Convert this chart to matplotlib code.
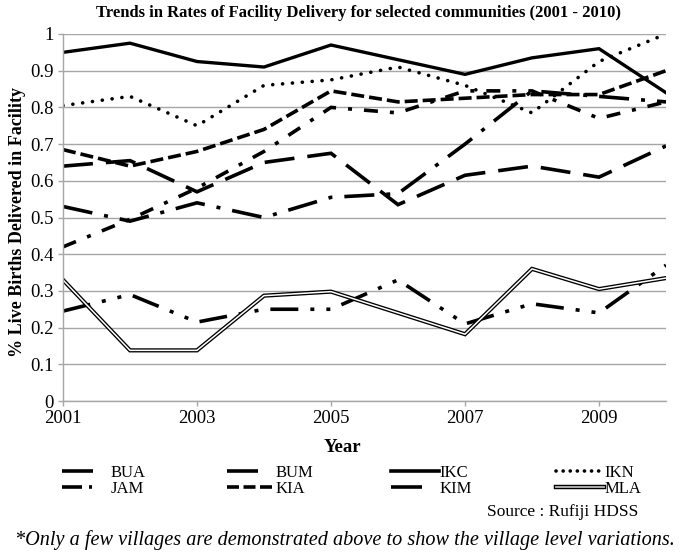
import matplotlib
matplotlib.use('Agg')
import matplotlib.pyplot as plt
import matplotlib.patheffects as pe
from matplotlib.lines import Line2D

plt.rcParams['font.family'] = ['Liberation Serif', 'DejaVu Serif']
plt.rcParams['lines.scale_dashes'] = False

# data
years = list(range(2001, 2011))
bua = [0.53, 0.49, 0.54, 0.50, 0.555, 0.565, 0.70, 0.845, 0.83, 0.815]
bum = [0.245, 0.29, 0.215, 0.25, 0.25, 0.33, 0.21, 0.265, 0.24, 0.37]
ikc = [0.95, 0.975, 0.925, 0.91, 0.97, 0.93, 0.89, 0.935, 0.96, 0.84]
ikn = [0.805, 0.83, 0.75, 0.86, 0.875, 0.91, 0.86, 0.785, 0.925, 1.0]
jam = [0.42, 0.495, 0.58, 0.68, 0.80, 0.785, 0.845, 0.845, 0.77, 0.815]
kia = [0.685, 0.64, 0.68, 0.74, 0.845, 0.815, 0.825, 0.835, 0.835, 0.90]
kim = [0.64, 0.655, 0.57, 0.65, 0.675, 0.535, 0.615, 0.64, 0.61, 0.695]
mla = [0.33, 0.138, 0.138, 0.287, 0.298, 0.24, 0.182, 0.36, 0.305, 0.335]

names = ['BUA', 'BUM', 'IKC', 'IKN', 'JAM', 'KIA', 'KIM', 'MLA']
series = [bua, bum, ikc, ikn, jam, kia, kim, mla]

# dash patterns in pixels (figure is 100 dpi), plot and legend key
px = 0.72
dash_px = {
    'BUA': (30, 12, 4, 12),
    'BUM': (28, 12, 4, 12, 4, 12),
    'IKN': (0.1, 9.8),
    'JAM': (14, 12, 4, 12),
    'KIA': (13, 5),
    'KIM': (30, 13),
}
key_px = {
    'BUA': (31, 40),
    'BUM': (31, 40),
    'KIM': (31, 40),
    'IKN': (0.1, 7.0),
    'JAM': (20, 7, 3, 40),
    'KIA': (12, 4.5),
}

fig = plt.figure(figsize=(6.85, 5.54), dpi=100)
ax = fig.add_axes([63 / 685, 1 - 401 / 554, (666 - 63) / 685, (401 - 34) / 554])

lw = 2.6
handles = {}
for name, vals in zip(names, series):
    if name == 'MLA':
        ax.plot(years, vals, color='white', lw=1.1, solid_joinstyle='miter',
                path_effects=[pe.Stroke(linewidth=3.0, foreground='black'), pe.Normal()])
        h = Line2D([], [], color='#bbbbbb', lw=1.3,
                   path_effects=[pe.Stroke(linewidth=3.2, foreground='black'), pe.Normal()])
    elif name == 'IKC':
        ax.plot(years, vals, color='black', lw=2.4, solid_joinstyle='miter')
        h = Line2D([], [], color='black', lw=2.6)
    else:
        cap = 'round' if name == 'IKN' else 'butt'
        ls = (0, tuple(v * px for v in dash_px[name]))
        ax.plot(years, vals, color='black', lw=lw, linestyle=ls,
                dash_capstyle=cap, dash_joinstyle='miter')
        kls = (0, tuple(v * px for v in key_px[name]))
        h = Line2D([], [], color='black', lw=lw, linestyle=kls, dash_capstyle=cap)
    handles[name] = h

ax.set_xlim(2001, 2010)
ax.set_ylim(0, 1)
ax.set_xticks([2001, 2003, 2005, 2007, 2009])
ax.set_yticks([i / 10 for i in range(11)])
ax.set_yticklabels(['0', '0.1', '0.2', '0.3', '0.4', '0.5', '0.6', '0.7', '0.8', '0.9', '1'])
ax.yaxis.grid(True, color='#a6a6a6', lw=1.0)
ax.set_axisbelow(True)
for s in ['top', 'right']:
    ax.spines[s].set_visible(False)
for s in ['left', 'bottom']:
    ax.spines[s].set_color('#a6a6a6')
    ax.spines[s].set_linewidth(1.0)
ax.tick_params(direction='out', length=3.6, width=1.0, color='#a6a6a6',
               labelsize=13.5, pad=3)

fig.text(358 / 685, 1 - 13 / 554,
         'Trends in Rates of Facility Delivery for selected communities (2001 - 2010)',
         ha='center', va='center', fontsize=12, fontweight='bold')
fig.text(18 / 685, 1 - 222 / 554, '% Live Births Delivered in Facility',
         rotation=90, ha='center', va='center', fontsize=13, fontweight='bold')
fig.text(342 / 685, 1 - 447 / 554, 'Year', ha='center', va='center',
         fontsize=13.5, fontweight='bold')

# legend: one two-row column per key position
columns = [('BUA', 'JAM'), ('BUM', 'KIA'), ('IKC', 'KIM'), ('IKN', 'MLA')]
col_x = [62, 227, 391, 556]
for cx, pair in zip(col_x, columns):
    leg = fig.legend([handles[n] for n in pair], list(pair), loc='upper left',
                     bbox_to_anchor=(cx / 685, 1 - 465 / 554), frameon=False,
                     fontsize=12, handlelength=2.9, handletextpad=0.0,
                     labelspacing=0.0, borderpad=0, borderaxespad=0)

fig.text(638 / 685, 1 - 512 / 554, 'Source : Rufiji HDSS', ha='right', va='center',
         fontsize=12.5)
fig.text(345 / 685, 1 - 540 / 554,
         '*Only a few villages are demonstrated above to show the village level variations.',
         ha='center', va='center', fontsize=14.6, fontstyle='italic')

fig.savefig('out.png', dpi=100)
